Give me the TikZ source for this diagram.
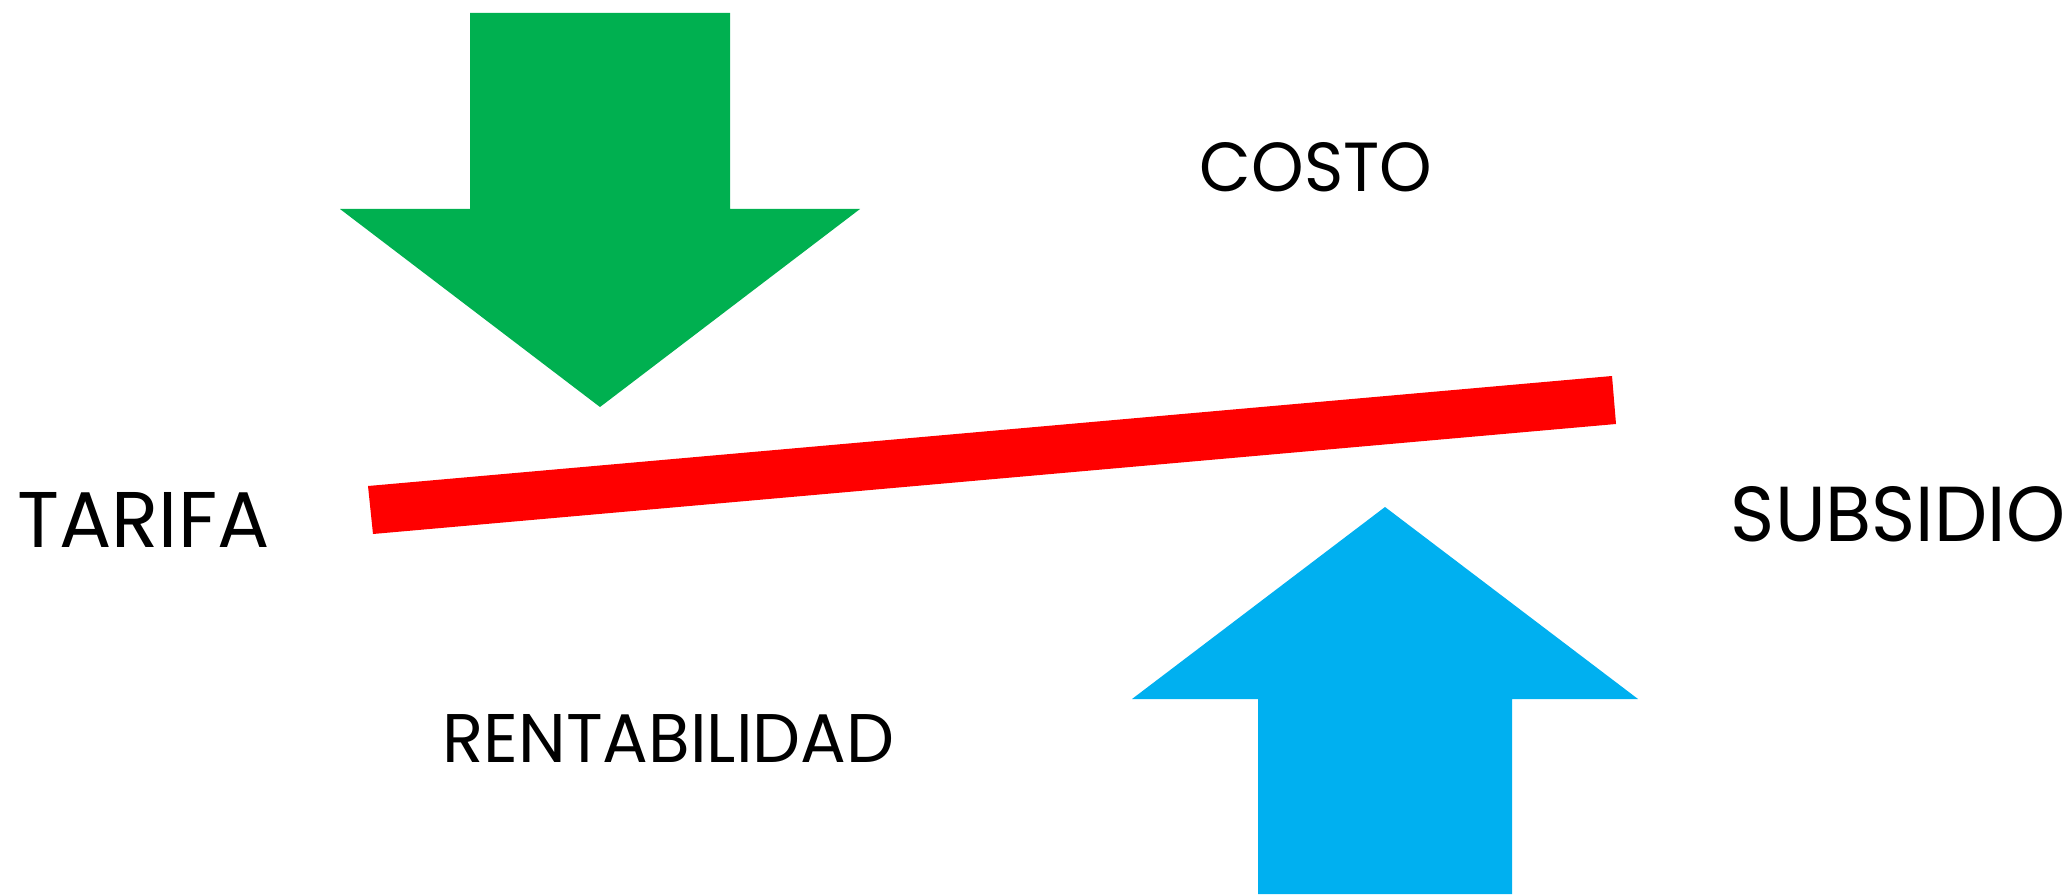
\documentclass[tikz,border=0pt]{standalone}
\usepackage{fontspec}
\usepackage{graphicx}
\setmainfont{Poppins}
\definecolor{arrgreen}{HTML}{00B050}
\definecolor{arrblue}{HTML}{00B0F0}
\definecolor{barred}{HTML}{FF0000}
\newcommand{\fitlabel}[3]{\resizebox{#1}{#2}{#3}}
\tikzset{
  lbl/.style={inner sep=0pt, anchor=base, font=\fontsize{20}{24}\selectfont},
  greenarrow/.style={fill=arrgreen, draw=none},
  bluearrow/.style={fill=arrblue, draw=none},
  redbar/.style={fill=barred, draw=none}
}
\begin{document}
\begin{tikzpicture}[x=0.01cm, y=-0.01cm]
\useasboundingbox (0,0) rectangle (2070,894);
% green arrow pointing down
\fill[greenarrow] (470,13) -- (730,13) -- (730,209) -- (860,209) -- (600,407) -- (340,209) -- (470,209) -- cycle;
% blue arrow pointing up
\fill[bluearrow] (1258,894) -- (1512,894) -- (1512,699) -- (1638,699) -- (1385,507) -- (1132,699) -- (1258,699) -- cycle;
% red bar
\fill[redbar] (368,486) -- (1612,376) -- (1616,424) -- (373,534) -- cycle;
% labels
\node[lbl] (tarifa) at (143.5,547) {\fitlabel{2.52cm}{0.55cm}{TARIFA}};
\node[lbl] (subsidio) at (1898,541) {\fitlabel{3.34cm}{0.55cm}{SUBSIDIO}};
\node[lbl] (costo) at (1316,192) {\fitlabel{2.32cm}{0.49cm}{COSTO}};
\node[lbl] (rentab) at (668.5,762) {\fitlabel{4.52cm}{0.48cm}{RENTABILIDAD}};
\end{tikzpicture}
\end{document}
